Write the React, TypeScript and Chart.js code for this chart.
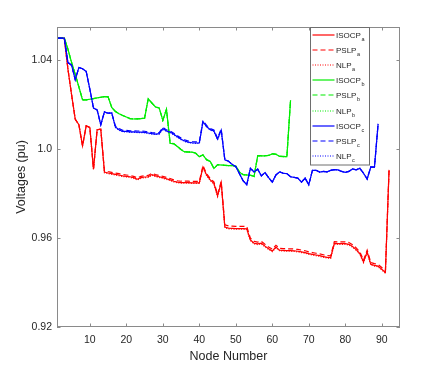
import React, { useEffect, useRef } from "react";
import { Chart, registerables } from "chart.js";

Chart.register(...registerables);

const X_TICKS = [10, 20, 30, 40, 50, 60, 70, 80, 90];
const Y_TICKS = [0.92, 0.96, 1.0, 1.04];
const Y_TICK_LABELS = ["0.92", "0.96", "1.0", "1.04"];
const X_TITLE = "Node Number";
const Y_TITLE = "Voltages (pu)";
const METHODS = ["ISOCP", "PSLP", "NLP"];
const PHASES = ["a", "b", "c"];

const ISOCP_a = [1.050, 1.050, 1.050, 1.036, 1.0245, 1.0135, 1.011, 1.0015, 1.0105, 1.0098,
  0.991, 1.0088, 1.0090, 0.9897, 0.9893, 0.9890, 0.9887, 0.9884, 0.9880, 0.9878,
  0.9876, 0.9872, 0.9865, 0.9872, 0.9875, 0.9876, 0.9886, 0.9880, 0.9876, 0.9872,
  0.9867, 0.9862, 0.9856, 0.9852, 0.9850, 0.9850, 0.9850, 0.9849, 0.9849, 0.9849,
  0.9920, 0.9884, 0.9862, 0.9847, 0.9790, 0.9850, 0.9650, 0.9645, 0.9644, 0.9643,
  0.9643, 0.9643, 0.9642, 0.9592, 0.9577, 0.9574, 0.9577, 0.9564, 0.9552, 0.9542,
  0.9560, 0.9546, 0.9545, 0.9544, 0.9544, 0.9543, 0.9541, 0.9538, 0.9535, 0.9530,
  0.9527, 0.9524, 0.9521, 0.9517, 0.9513, 0.9512, 0.9576, 0.9575, 0.9575, 0.9575,
  0.9572, 0.9562, 0.9548, 0.9530, 0.9493, 0.9538, 0.9482, 0.9477, 0.9474, 0.9460,
  0.9445, 0.9907];
const PSLP_a = [1.050, 1.050, 1.050, 1.036, 1.0245, 1.0135, 1.011, 1.0015, 1.0105, 1.0098,
  0.991, 1.0088, 1.0090, 0.9903, 0.9899, 0.9896, 0.9893, 0.9890, 0.9886, 0.9884,
  0.9882, 0.9878, 0.9871, 0.9878, 0.9881, 0.9882, 0.9892, 0.9886, 0.9882, 0.9878,
  0.9873, 0.9868, 0.9862, 0.9858, 0.9856, 0.9856, 0.9856, 0.9855, 0.9855, 0.9855,
  0.9926, 0.9890, 0.9868, 0.9853, 0.9796, 0.9856, 0.9660, 0.9655, 0.9654, 0.9653,
  0.9653, 0.9653, 0.9652, 0.9600, 0.9585, 0.9582, 0.9585, 0.9572, 0.9560, 0.9550,
  0.9568, 0.9554, 0.9553, 0.9552, 0.9552, 0.9551, 0.9549, 0.9546, 0.9543, 0.9538,
  0.9535, 0.9532, 0.9529, 0.9525, 0.9521, 0.9520, 0.9584, 0.9583, 0.9583, 0.9583,
  0.9580, 0.9570, 0.9556, 0.9538, 0.9501, 0.9546, 0.9490, 0.9485, 0.9482, 0.9468,
  0.9453, 0.9907];
const NLP_a = [1.050, 1.050, 1.050, 1.036, 1.0245, 1.0135, 1.011, 1.0015, 1.0105, 1.0098,
  0.991, 1.0088, 1.0090, 0.9894, 0.9890, 0.9887, 0.9884, 0.9881, 0.9877, 0.9875,
  0.9873, 0.9869, 0.9862, 0.9869, 0.9872, 0.9873, 0.9883, 0.9877, 0.9873, 0.9869,
  0.9864, 0.9859, 0.9853, 0.9849, 0.9847, 0.9847, 0.9847, 0.9846, 0.9846, 0.9846,
  0.9917, 0.9881, 0.9859, 0.9844, 0.9787, 0.9847, 0.9647, 0.9642, 0.9641, 0.9640,
  0.9640, 0.9640, 0.9639, 0.9589, 0.9574, 0.9571, 0.9574, 0.9561, 0.9549, 0.9539,
  0.9557, 0.9543, 0.9542, 0.9541, 0.9541, 0.9540, 0.9538, 0.9535, 0.9532, 0.9527,
  0.9524, 0.9521, 0.9518, 0.9514, 0.9510, 0.9509, 0.9573, 0.9572, 0.9572, 0.9572,
  0.9569, 0.9559, 0.9545, 0.9527, 0.9490, 0.9535, 0.9479, 0.9474, 0.9471, 0.9457,
  0.9442, 0.9907];

const ISOCP_b = [1.050, 1.050, 1.050, 1.045, 1.039, 1.0337, 1.028, 1.0222, 1.0222, 1.0225,
  1.0228, 1.0231, 1.0234, 1.0237, 1.0236, 1.0188, 1.0170, 1.0160, 1.0152, 1.0145,
  1.0138, 1.0136, 1.0137, 1.0138, 1.0140, 1.0227, 1.0208, 1.0190, 1.0186, 1.0130,
  1.0180, 1.0027, 1.0024, 1.0012, 0.9998, 0.9988, 0.9987, 0.9987, 0.9982, 0.9966,
  0.9974, 0.9952, 0.9945, 0.9913, 0.9930, 0.9929, 0.9927, 0.9926, 0.9926, 0.9924,
  0.9897, 0.9885, 0.9884, 0.9883, 0.9877, 0.9970, 0.9970, 0.9970, 0.9972, 0.9979,
  0.9977, 0.9968, 0.9967, 0.9967, 1.0220];
const PSLP_b = [1.050, 1.050, 1.050, 1.045, 1.039, 1.0337, 1.028, 1.0222, 1.0222, 1.0225,
  1.0228, 1.0231, 1.0234, 1.0237, 1.0236, 1.0188, 1.0170, 1.0160, 1.0152, 1.0145,
  1.0138, 1.0136, 1.0137, 1.0138, 1.0140, 1.0227, 1.0208, 1.0190, 1.0186, 1.0130,
  1.0180, 1.0028, 1.0025, 1.0013, 0.9999, 0.9989, 0.9988, 0.9988, 0.9983, 0.9967,
  0.9975, 0.9953, 0.9946, 0.9914, 0.9931, 0.9930, 0.9928, 0.9927, 0.9927, 0.9925,
  0.9898, 0.9886, 0.9885, 0.9884, 0.9878, 0.9971, 0.9971, 0.9971, 0.9973, 0.9980,
  0.9978, 0.9969, 0.9968, 0.9968, 1.0220];
const NLP_b = [1.050, 1.050, 1.050, 1.045, 1.039, 1.0337, 1.028, 1.0222, 1.0222, 1.0225,
  1.0228, 1.0231, 1.0234, 1.0237, 1.0236, 1.0188, 1.0170, 1.0160, 1.0152, 1.0145,
  1.0138, 1.0136, 1.0137, 1.0138, 1.0140, 1.0227, 1.0208, 1.0190, 1.0186, 1.0130,
  1.0180, 1.0027, 1.0024, 1.0012, 0.9998, 0.9988, 0.9987, 0.9987, 0.9982, 0.9966,
  0.9974, 0.9952, 0.9945, 0.9913, 0.9930, 0.9929, 0.9927, 0.9926, 0.9926, 0.9924,
  0.9897, 0.9885, 0.9884, 0.9883, 0.9877, 0.9970, 0.9970, 0.9970, 0.9972, 0.9979,
  0.9977, 0.9968, 0.9967, 0.9967, 1.0220];

const ISOCP_c = [1.050, 1.050, 1.050, 1.0390, 1.0378, 1.0313, 1.0368, 1.0362, 1.0350, 1.0270,
  1.0185, 1.0177, 1.0110, 1.0168, 1.0162, 1.0163, 1.0100, 1.0088, 1.0080, 1.0080,
  1.0078, 1.0078, 1.0077, 1.0077, 1.0076, 1.0073, 1.0070, 1.0068, 1.0070, 1.0093,
  1.0082, 1.0077, 1.0067, 1.0056, 1.0045, 1.0037, 1.0032, 1.0029, 1.0028, 1.0028,
  1.0124, 1.0102, 1.0088, 1.0082, 1.0045, 1.0086, 0.9952, 0.9946, 0.9932, 0.9922,
  0.9890, 0.9858, 0.9840, 0.9914, 0.9898, 0.9910, 0.9880, 0.9895, 0.9872, 0.9852,
  0.9884, 0.9898, 0.9892, 0.9890, 0.9876, 0.9873, 0.9870, 0.9852, 0.9870, 0.9840,
  0.9905, 0.9905, 0.9897, 0.9900, 0.9898, 0.9905, 0.9908, 0.9907, 0.9900, 0.9896,
  0.9900, 0.9911, 0.9907, 0.9914, 0.9892, 0.9866, 0.9920, 0.9919, 1.0114];
const PSLP_c = [1.050, 1.050, 1.050, 1.0390, 1.0378, 1.0313, 1.0368, 1.0362, 1.0350, 1.0270,
  1.0185, 1.0177, 1.0110, 1.0168, 1.0162, 1.0163, 1.0105, 1.0093, 1.0085, 1.0085,
  1.0083, 1.0083, 1.0082, 1.0082, 1.0081, 1.0078, 1.0075, 1.0073, 1.0075, 1.0098,
  1.0087, 1.0082, 1.0072, 1.0061, 1.0050, 1.0042, 1.0037, 1.0034, 1.0033, 1.0033,
  1.0129, 1.0107, 1.0093, 1.0087, 1.0050, 1.0091, 0.9952, 0.9946, 0.9932, 0.9922,
  0.9890, 0.9858, 0.9840, 0.9914, 0.9898, 0.9910, 0.9880, 0.9895, 0.9872, 0.9852,
  0.9884, 0.9898, 0.9892, 0.9890, 0.9876, 0.9873, 0.9870, 0.9852, 0.9870, 0.9840,
  0.9905, 0.9905, 0.9897, 0.9900, 0.9898, 0.9905, 0.9908, 0.9907, 0.9900, 0.9896,
  0.9900, 0.9911, 0.9907, 0.9914, 0.9892, 0.9866, 0.9920, 0.9919, 1.0114];
const NLP_c = [1.050, 1.050, 1.050, 1.0390, 1.0378, 1.0313, 1.0368, 1.0362, 1.0350, 1.0270,
  1.0185, 1.0177, 1.0110, 1.0168, 1.0162, 1.0163, 1.0098, 1.0086, 1.0078, 1.0078,
  1.0076, 1.0076, 1.0075, 1.0075, 1.0074, 1.0071, 1.0068, 1.0066, 1.0068, 1.0091,
  1.0080, 1.0075, 1.0065, 1.0054, 1.0043, 1.0035, 1.0030, 1.0027, 1.0026, 1.0026,
  1.0122, 1.0100, 1.0086, 1.0080, 1.0043, 1.0084, 0.9952, 0.9946, 0.9932, 0.9922,
  0.9890, 0.9858, 0.9840, 0.9914, 0.9898, 0.9910, 0.9880, 0.9895, 0.9872, 0.9852,
  0.9884, 0.9898, 0.9892, 0.9890, 0.9876, 0.9873, 0.9870, 0.9852, 0.9870, 0.9840,
  0.9905, 0.9905, 0.9897, 0.9900, 0.9898, 0.9905, 0.9908, 0.9907, 0.9900, 0.9896,
  0.9900, 0.9911, 0.9907, 0.9914, 0.9892, 0.9866, 0.9920, 0.9919, 1.0114];

const FONT = "'Liberation Sans', Arial, Helvetica, sans-serif";
const TEXT_COLOR = "#262626";
const AXIS_COLOR = "#8a8a8a";
const PHASE_COLORS = ["#ff0000", "#00ec00", "#0000ff"];
const METHOD_DASH = [[], [5, 3], [1, 1.5]];

export default function App() {
  const ref = useRef<HTMLCanvasElement | null>(null);

  useEffect(() => {
    const canvas = ref.current;
    if (!canvas) return;
    const seriesByPhase = [
      [ISOCP_a, PSLP_a, NLP_a],
      [ISOCP_b, PSLP_b, NLP_b],
      [ISOCP_c, PSLP_c, NLP_c],
    ];
    const datasets: any[] = [];
    const legendItems: { name: string; sub: string; color: string; dash: number[] }[] = [];
    let idx = 0;
    seriesByPhase.forEach((group, p) => {
      group.forEach((arr, m) => {
        datasets.push({
          label: METHODS[m] + "_" + PHASES[p],
          data: arr.map((v, i) => ({ x: i + 1, y: v })),
          borderColor: PHASE_COLORS[p],
          borderWidth: 1.2,
          borderDash: METHOD_DASH[m].slice(),
          pointRadius: 0,
          fill: false,
          tension: 0,
          order: 100 - idx,
        });
        legendItems.push({
          name: METHODS[m],
          sub: PHASES[p],
          color: PHASE_COLORS[p],
          dash: METHOD_DASH[m].slice(),
        });
        idx++;
      });
    });

    const framePlugin = {
      id: "frame",
      afterDatasetsDraw(chart: any) {
        const { ctx, chartArea } = chart;
        const { left, right, top, bottom } = chartArea;
        const xs = chart.scales.x;
        const ys = chart.scales.y;
        ctx.save();
        ctx.strokeStyle = AXIS_COLOR;
        ctx.lineWidth = 1;
        ctx.setLineDash([]);
        const tl = 3.5;
        ctx.beginPath();
        X_TICKS.forEach((v) => {
          const px = Math.round(xs.getPixelForValue(v)) + 0.5;
          ctx.moveTo(px, bottom);
          ctx.lineTo(px, bottom - tl);
          ctx.moveTo(px, top);
          ctx.lineTo(px, top + tl);
        });
        Y_TICKS.forEach((v) => {
          const py = Math.round(ys.getPixelForValue(v)) + 0.5;
          ctx.moveTo(left, py);
          ctx.lineTo(left + tl, py);
          ctx.moveTo(right, py);
          ctx.lineTo(right - tl, py);
        });
        ctx.stroke();
        ctx.strokeRect(Math.round(left) + 0.5, Math.round(top) + 0.5, Math.round(right - left) - 1, Math.round(bottom - top) - 1);

        // legend box
        const lx = 310.5, ly = 27.5, lw = 59, lh = 137.5;
        ctx.fillStyle = "#ffffff";
        ctx.fillRect(lx, ly, lw, lh);
        ctx.strokeStyle = "#6e6e6e";
        ctx.lineWidth = 1;
        ctx.strokeRect(lx, ly, lw, lh);
        const step = 15.1;
        for (let i = 0; i < legendItems.length; i++) {
          const it = legendItems[i];
          const cy = 35 + i * step;
          ctx.save();
          ctx.beginPath();
          ctx.strokeStyle = it.color;
          ctx.lineWidth = 1.2;
          ctx.setLineDash(it.dash);
          ctx.moveTo(312.5, Math.round(cy));
          ctx.lineTo(334.5, Math.round(cy));
          ctx.stroke();
          ctx.restore();
          ctx.fillStyle = TEXT_COLOR;
          ctx.textBaseline = "alphabetic";
          ctx.textAlign = "left";
          ctx.font = "8px " + FONT;
          ctx.fillText(it.name, 336, cy + 3);
          const w = ctx.measureText(it.name).width;
          ctx.font = "5.5px " + FONT;
          ctx.fillText(it.sub, 336 + w + 0.5, cy + 6);
        }
        ctx.restore();
      },
    };

    const chart = new Chart(canvas, {
      type: "line",
      data: { datasets },
      options: {
        responsive: false,
        animation: false,
        layout: { padding: { left: 0, top: 27, right: 43, bottom: 0 } },
        plugins: { legend: { display: false }, tooltip: { enabled: false } },
        scales: {
          x: {
            type: "linear",
            min: 1,
            max: 95,
            afterBuildTicks: (s: any) => {
              s.ticks = X_TICKS.map((v) => ({ value: v }));
            },
            afterFit: (s: any) => {
              s.height = 41;
            },
            grid: { display: false, drawTicks: false },
            border: { display: false },
            ticks: {
              padding: 7,
              color: TEXT_COLOR,
              font: { family: FONT, size: 10.5 },
              maxRotation: 0,
              autoSkip: false,
              callback: (v: any) => String(v),
            },
            title: {
              display: true,
              text: X_TITLE,
              color: TEXT_COLOR,
              font: { family: FONT, size: 12.5 },
              padding: { top: 0, bottom: 4 },
            },
          },
          y: {
            type: "linear",
            min: 0.92,
            max: 1.055,
            afterBuildTicks: (s: any) => {
              s.ticks = Y_TICKS.map((v) => ({ value: v }));
            },
            afterFit: (s: any) => {
              s.width = 57;
            },
            grid: { display: false, drawTicks: false },
            border: { display: false },
            ticks: {
              padding: 5,
              color: TEXT_COLOR,
              font: { family: FONT, size: 10.5 },
              autoSkip: false,
              callback: (v: any) => {
                const i = Y_TICKS.findIndex((t) => Math.abs(t - v) < 1e-9);
                return i >= 0 ? Y_TICK_LABELS[i] : "";
              },
            },
            title: {
              display: true,
              text: Y_TITLE,
              color: TEXT_COLOR,
              font: { family: FONT, size: 12.5 },
              padding: { top: 14, bottom: 0 },
            },
          },
        },
      },
      plugins: [framePlugin],
    });
    return () => chart.destroy();
  }, []);

  return (
    <div style={{ position: "fixed", left: 0, top: 0, width: 443, height: 368, background: "#ffffff" }}>
      <canvas ref={ref} width={443} height={368} style={{ display: "block", width: 443, height: 368 }} />
    </div>
  );
}
